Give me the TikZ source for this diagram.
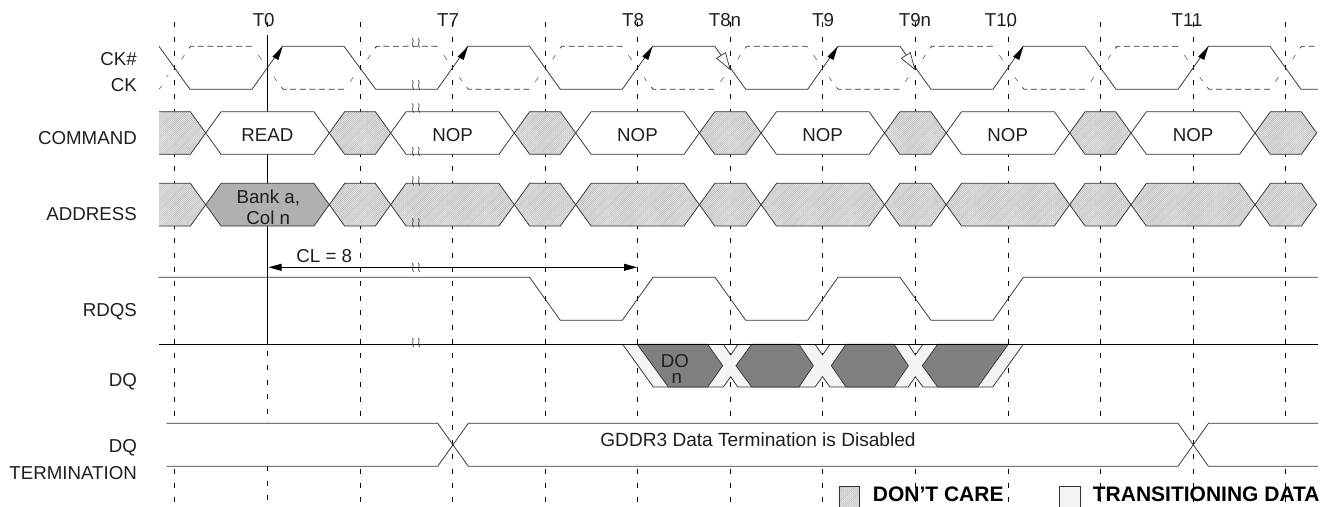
\documentclass[tikz,border=0pt]{standalone}
\usepackage{fontspec}
\setmainfont{Liberation Sans}
\usetikzlibrary{patterns.meta,arrows.meta}
\definecolor{ln}{HTML}{333333}
\definecolor{dcbg}{HTML}{EBEBEB}
\definecolor{dch}{HTML}{BBBBBB}
\definecolor{bank}{HTML}{B0B0B0}
\definecolor{dq}{HTML}{808080}
\definecolor{tr}{HTML}{F4F4F4}
\tikzset{x=1pt,y=-1pt,
 sig/.style={draw=ln,line width=0.75pt,line join=miter},
 hatchfill/.style={preaction={fill=dcbg},pattern={Lines[angle=45,distance=1.45pt,line width=0.6pt]},pattern color=dch},
 dcare/.style={sig,hatchfill},
 whitebus/.style={sig,fill=white},
 bankbus/.style={sig,fill=bank},
 dqbus/.style={draw=ln,line width=0.7pt,fill=dq},
 gridl/.style={black,line width=0.8pt,dash pattern=on 5pt off 9.4pt,dash phase=0pt},
 clkn/.style={draw=ln,line width=0.75pt,dash pattern=on 6pt off 3.6pt},
 clknb/.style={draw=ln!70,line width=0.7pt},
 txt/.style={font=\fontsize{18.7}{18.7}\selectfont,inner sep=0,text=black!88,anchor=base},
 sname/.style={txt,anchor=base east},
 legendt/.style={font=\fontsize{21}{21}\bfseries\selectfont,inner sep=0,anchor=base west},
 wig/.style={draw=black!80,line width=0.7pt}}
% bus shape: #1 style, #2 left crossing, #3 right crossing, #4 centre y
\newcommand{\hexa}[4]{\path[#1] (#2,#4) -- (#2+15.4,#4-21.35) -- (#3-15.4,#4-21.35) -- (#3,#4) -- (#3-15.4,#4+21.35) -- (#2+15.4,#4+21.35) -- cycle;}
\newcommand{\leftpart}[3]{\path[#1] (159,#3-21.35) -- (#2-15.4,#3-21.35) -- (#2,#3) -- (#2-15.4,#3+21.35) -- (159,#3+21.35);}
\newcommand{\wiggle}[1]{\draw[wig] (412.5,#1) .. controls (414.5,#1+2.5) and (411,#1+5) .. (413.5,#1+9);
 \draw[wig] (418.5,#1) .. controls (420.5,#1+2.5) and (417,#1+5) .. (419.5,#1+9);}
\begin{document}
\begin{tikzpicture}
\useasboundingbox (0,0) rectangle (1333,506);
% time grid
\foreach \gx in {174.4,360.2,452.7,545.3,637.3,730.5,822.5,915.3,1008.2,1100.7,1193.2,1285.3}
  \draw[gridl] (\gx,22.1) -- (\gx,506);
\draw[gridl] (267.4,22.1) -- (267.4,33);
\draw[gridl] (267.4,351) -- (267.4,506);
\coordinate (t0top) at (267.4,35);
\coordinate (t0bot) at (267.4,344.3);
\draw[black,line width=0.8pt] (t0top) -- (t0bot);
% CK# dashed
\foreach \g/\n in {174.4/267.4,360.2/452.7,545.3/637.3,730.5/822.5,915.3/1008.2,1100.7/1193.2}{
  \draw[clknb] (\g+7.3,59.3) -- (\g+10,55) (\n-9,55) -- (\n-5.7,60);
  \draw[clkn] (\g+14.5,48.3) -- (\g+16.5,46.3) -- (\n-16,46.3) -- (\n-13.5,48.5);
}
\foreach \g/\n in {267.4/360.2,452.7/545.3,637.3/730.5,822.5/915.3,1008.2/1100.7,1193.2/1285.3}{
  \draw[clknb] (\g+6.6,77.3) -- (\g+9.3,81) (\n-10,81.7) -- (\n-7,77.3);
  \draw[clkn] (\g+14,87.3) -- (\g+16,89.3) -- (\n-16,89.3) -- (\n-14,87.3);
}
\draw[clknb] (159,89.3) -- (161.7,86) (166.7,76.7) -- (168.3,75);
\draw[clknb] (1292.6,59.3) -- (1295.3,55);
\draw[clkn] (1299.8,48.3) -- (1301.8,46.3) -- (1318,46.3);
% CK
\draw[sig] (159,46.3) -- (190,89.3) -- (252,89.3) -- (282.6,46.3) -- (344,46.3) -- (375.7,89.3) -- (437.3,89.3) -- (467.8,46.3) -- (529.6,46.3) -- (560.3,89.3) -- (622.3,89.3) -- (652.8,46.3) -- (714.7,46.3) -- (745.7,89.3) -- (807.7,89.3) -- (837.9,46.3) -- (900,46.3) -- (931,89.3) -- (993,89.3) -- (1023,46.3) -- (1085,46.3) -- (1116,89.3) -- (1178,89.3) -- (1208.4,46.3) -- (1270,46.3) -- (1301,89.3) -- (1318,89.3);
\foreach \ax in {267.4,452.7,637.3,822.5,1008.2,1193.2}
  \fill[black] (\ax+15.2,46.3) -- (\ax+5,56.7) -- (\ax+11,60) -- cycle;
\foreach \ax in {730.5,915.3}
  \draw[fill=white,line width=0.7pt,draw=ln] (\ax-0.5,69.3) -- (\ax-14,58.3) -- (\ax-5,52.7) -- cycle;
% COMMAND
\leftpart{dcare}{205.7}{133}
\hexa{whitebus}{205.7}{329.3}{133}
\hexa{dcare}{329.3}{390.7}{133}
\hexa{whitebus}{390.7}{514.3}{133}
\hexa{dcare}{514.3}{575.7}{133}
\hexa{whitebus}{575.7}{699.4}{133}
\hexa{dcare}{699.4}{761.1}{133}
\hexa{whitebus}{761.1}{884.5}{133}
\hexa{dcare}{884.5}{946.2}{133}
\hexa{whitebus}{946.2}{1069.7}{133}
\hexa{dcare}{1069.7}{1131}{133}
\hexa{whitebus}{1131}{1255}{133}
\hexa{dcare}{1255}{1316.7}{133}
% ADDRESS
\leftpart{dcare}{205.7}{204.7}
\hexa{bankbus}{205.7}{329.3}{204.7}
\hexa{dcare}{329.3}{390.7}{204.7}
\hexa{dcare}{390.7}{514.3}{204.7}
\hexa{dcare}{514.3}{575.7}{204.7}
\hexa{dcare}{575.7}{699.4}{204.7}
\hexa{dcare}{699.4}{761.1}{204.7}
\hexa{dcare}{761.1}{884.5}{204.7}
\hexa{dcare}{884.5}{946.2}{204.7}
\hexa{dcare}{946.2}{1069.7}{204.7}
\hexa{dcare}{1069.7}{1131}{204.7}
\hexa{dcare}{1131}{1255}{204.7}
\hexa{dcare}{1255}{1316.7}{204.7}
% RDQS
\draw[sig] (158.3,277.3) -- (529.6,277.3) -- (560.3,320.3) -- (622.3,320.3) -- (653,277.3) -- (715,277.3) -- (745.7,320.3) -- (807.7,320.3) -- (838,277.3) -- (900,277.3) -- (931,320.3) -- (993,320.3) -- (1023.3,277.3) -- (1318,277.3);
% CL arrow
\coordinate (clA) at (268.5,267.3);
\coordinate (clB) at (637,267.3);
\draw[black,line width=0.8pt,{Triangle[length=13pt,width=7pt]}-{Triangle[length=13pt,width=7pt]}] (clA) -- (clB);
% DQ
\fill[tr] (622.7,344.3) -- (653.3,387) -- (723.3,387) -- (730.7,376.7) -- (737.7,387) -- (815,387) -- (822.5,376.7) -- (830,387) -- (908.3,387) -- (915.3,376.7) -- (923,387) -- (992.7,387) -- (1023.3,344.3) -- (923,344.3) -- (915.3,355) -- (908.3,344.3) -- (830,344.3) -- (822.5,355) -- (815,344.3) -- (738,344.3) -- (730.7,355) -- (723.3,344.3) -- cycle;
\draw[sig] (622.7,344.3) -- (653.3,387) -- (723.3,387) -- (730.7,376.7) -- (737.7,387) -- (815,387) -- (822.5,376.7) -- (830,387) -- (908.3,387) -- (915.3,376.7) -- (923,387) -- (992.7,387) -- (1023.3,344.3);
\draw[sig] (723.3,344.3) -- (730.7,355) -- (738,344.3) (815,344.3) -- (822.5,355) -- (830,344.3) (908.3,344.3) -- (915.3,355) -- (923,344.3);
\path[dqbus] (637.3,344.3) -- (668.3,387) -- (707.7,387) -- (722.7,365.7) -- (707.7,344.3) -- cycle;
\path[dqbus] (736,365.7) -- (751.7,344.3) -- (799,344.3) -- (813.3,365.7) -- (799,387) -- (751.7,387) -- cycle;
\path[dqbus] (831.3,365.7) -- (846,344.3) -- (894,344.3) -- (908.3,365.7) -- (894,387) -- (846,387) -- cycle;
\path[dqbus] (922.3,365.7) -- (937.7,344.3) -- (1008.3,344.3) -- (977.7,387) -- (937.7,387) -- cycle;
\draw[black,line width=0.8pt] (159.3,344.3) -- (1318,344.3);
% DQ termination
\fill[white] (166.7,423.3) -- (437.7,423.3) -- (452.7,444.8) -- (437.7,466.3) -- (166.7,466.3) -- cycle;
\fill[white] (468.3,423.3) -- (1178,423.3) -- (1193.2,444.8) -- (1178,466.3) -- (468.3,466.3) -- (452.7,444.8) -- cycle;
\fill[white] (1318,423.3) -- (1208.5,423.3) -- (1193.2,444.8) -- (1208.5,466.3) -- (1318,466.3) -- cycle;
\draw[sig] (166.7,423.3) -- (437.7,423.3) -- (468.3,466.3) -- (1178,466.3) -- (1208.5,423.3) -- (1318,423.3);
\draw[sig] (166.7,466.3) -- (437.7,466.3) -- (468.3,423.3) -- (1178,423.3) -- (1208.5,466.3) -- (1318,466.3);
% wiggles
\wiggle{38.3}\wiggle{80.3}\wiggle{103.5}\wiggle{147}\wiggle{176.5}\wiggle{218.3}\wiggle{263}\wiggle{338}
% Text
\node[txt] (t0) at (263.7,26) {T0};
\node[txt] (t7) at (448,26) {T7};
\node[txt] (t8) at (633,26) {T8};
\node[txt] (t8n) at (725,26) {T8n};
\node[txt] (t9) at (823,26) {T9};
\node[txt] (t9n) at (915,26) {T9n};
\node[txt] (t10) at (1001,26) {T10};
\node[txt] (t11) at (1187,26) {T11};
\node[sname] (ckn) at (137,65) {CK\#};
\node[sname] (ck) at (137,91) {CK};
\node[sname] (cmd) at (137,144) {COMMAND};
\node[sname] (addr) at (137,220) {ADDRESS};
\node[sname] (rdqs) at (137,316) {RDQS};
\node[sname] (dql) at (137,386) {DQ};
\node[sname] (dqt1) at (137,452) {DQ};
\node[sname] (dqt2) at (137,479.3) {TERMINATION};
\node[txt] (read) at (267.4,141.7) {READ};
\node[txt] (n1) at (452.7,141.7) {NOP};
\node[txt] (n2) at (637.5,141.7) {NOP};
\node[txt] (n3) at (822.7,141.7) {NOP};
\node[txt] (n4) at (1007.7,141.7) {NOP};
\node[txt] (n5) at (1193,141.7) {NOP};
\node[txt] (bank) at (268.3,203.3) {Bank a,};
\node[txt] (col) at (268.3,224) {Col n};
\node[txt] (cl) at (324.3,262) {CL = 8};
\node[txt] (do) at (675,367) {DO};
\node[txt] (dn) at (676.7,383) {n};
\node[txt,font=\fontsize{19.1}{19.1}\selectfont] (gddr) at (758,446.7) {GDDR3 Data Termination is Disabled};
% Legend
\path[dcare] (839,507) -- (839,486) -- (859.3,486) -- (859.3,507);
\node[legendt] (dc) at (872.7,501) {DON’T CARE};
\path[sig,fill=tr] (1059.3,507) -- (1059.3,486) -- (1080.7,486) -- (1080.7,507);
\node[legendt] (tr) at (1092.7,501) {TRANSITIONING DATA};
\end{tikzpicture}
\end{document}
